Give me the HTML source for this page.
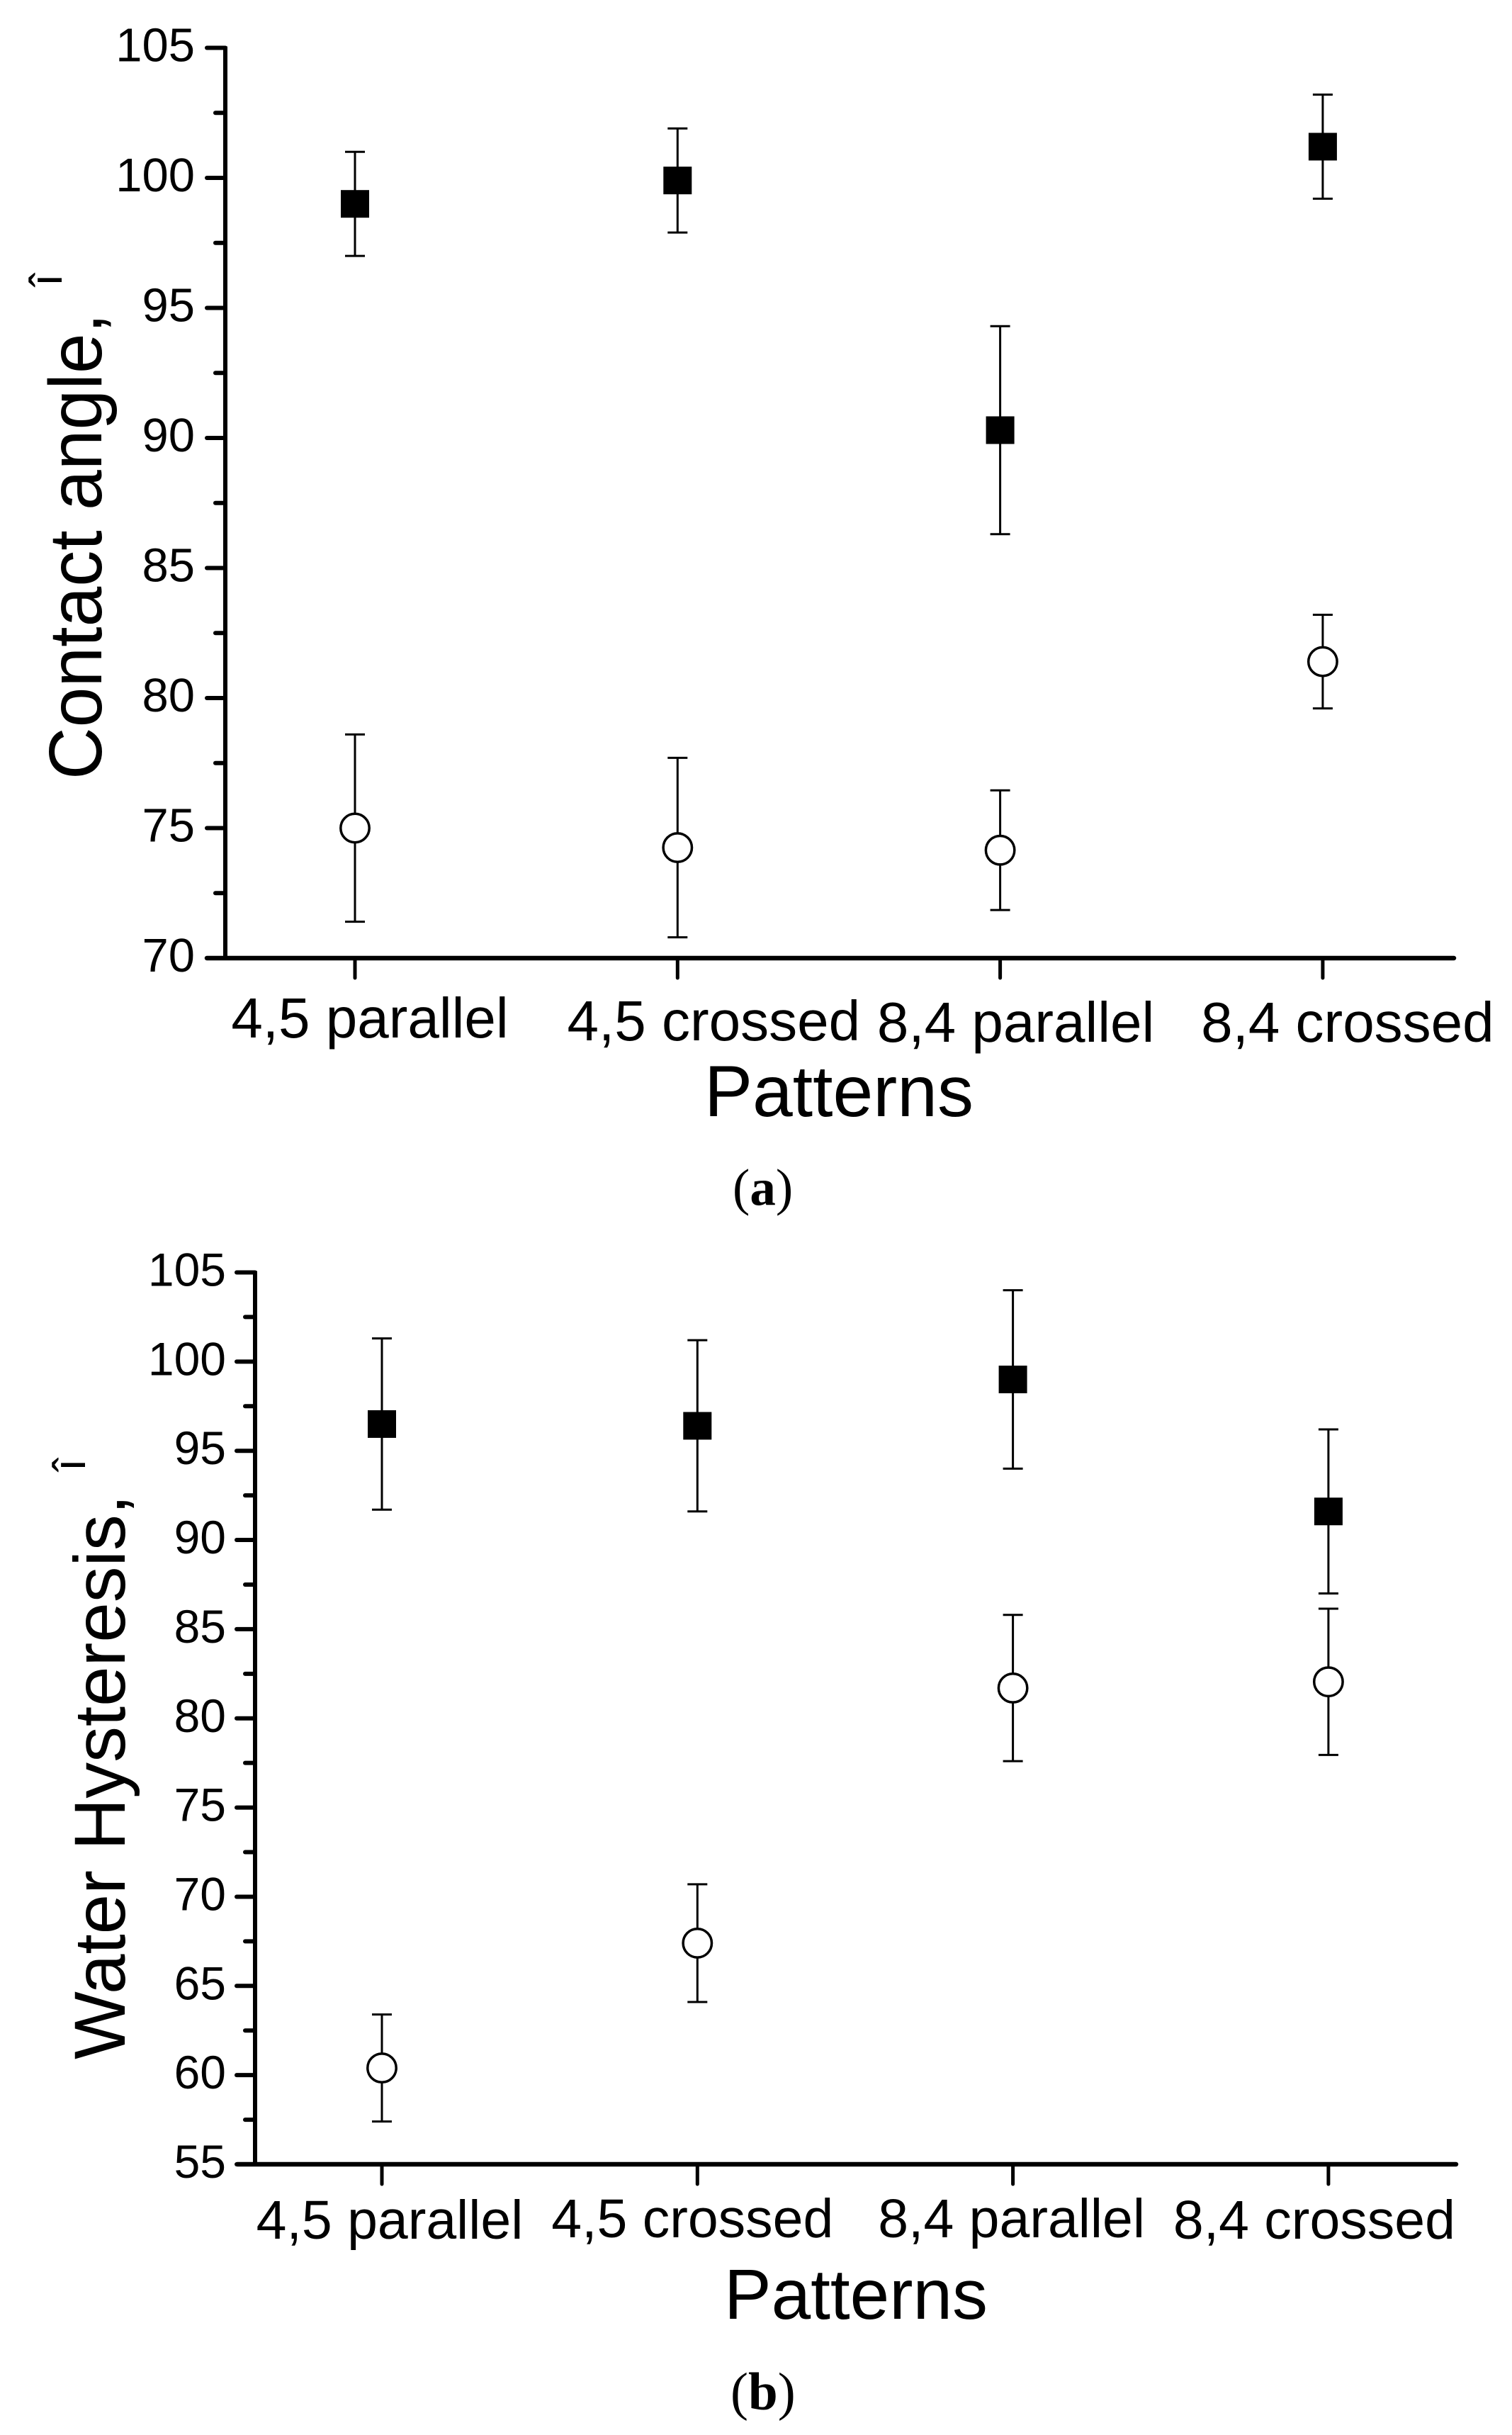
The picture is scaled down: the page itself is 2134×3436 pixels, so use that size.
<!DOCTYPE html>
<html lang="en">
<head>
<meta charset="utf-8">
<title>Contact angle and water hysteresis by pattern</title>
<style>
html,body{margin:0;padding:0;background:#fff;}
svg{display:block;}
text{font-family:"Liberation Sans",Arial,sans-serif;fill:#000;}
.cap{font-family:"Liberation Serif","Times New Roman",serif;}
</style>
</head>
<body>
<svg id="figure" xmlns="http://www.w3.org/2000/svg" width="2134" height="3436" viewBox="0 0 2134 3436">
  <rect x="0" y="0" width="2134" height="3436" fill="#fff"/>
  <g id="panel-a"></g>
  <g id="panel-b"></g>

  <text transform="translate(143,1100) rotate(-90)" font-size="106" textLength="658" lengthAdjust="spacingAndGlyphs">Contact angle,</text>
  <text transform="translate(87,404) rotate(-90)" font-size="64">î</text>
  <text x="994" y="1575" font-size="102" textLength="380" lengthAdjust="spacingAndGlyphs">Patterns</text>
  <text class="cap" x="1034" y="1700" font-size="73">(<tspan font-weight="bold">a</tspan>)</text>

  <text transform="translate(176,2906) rotate(-90)" font-size="102" textLength="797" lengthAdjust="spacingAndGlyphs">Water Hysteresis,</text>
  <text transform="translate(120,2076) rotate(-90)" font-size="64">î</text>
  <text x="1022" y="3272" font-size="100" textLength="372" lengthAdjust="spacingAndGlyphs">Patterns</text>
  <text class="cap" x="1031" y="3400" font-size="75">(<tspan font-weight="bold">b</tspan>)</text>
</svg>
<script>
// Data: categories and series values
const categories = ['4,5 parallel', '4,5 crossed', '8,4 parallel', '8,4 crossed'];

const yTicksA = [70, 75, 80, 85, 90, 95, 100, 105];
const filledA = [99.0, 99.9, 90.3, 101.2];
const filledErrA = [2.0, 2.0, 4.0, 2.0];
const openA = [75.0, 74.25, 74.15, 81.4];
const openErrA = [3.6, 3.45, 2.3, 1.8];

const yTicksB = [55, 60, 65, 70, 75, 80, 85, 90, 95, 100, 105];
const filledB = [96.5, 96.4, 99.0, 91.6];
const filledErrB = [4.8, 4.8, 5.0, 4.6];
const openB = [60.4, 67.4, 81.7, 82.05];
const openErrB = [3.0, 3.3, 4.1, 4.1];

const SVGNS = 'http://www.w3.org/2000/svg';

function lineEl(parent, x1, y1, x2, y2, w, cap) {
  const el = document.createElementNS(SVGNS, 'line');
  el.setAttribute('x1', x1);
  el.setAttribute('y1', y1);
  el.setAttribute('x2', x2);
  el.setAttribute('y2', y2);
  el.setAttribute('stroke', '#000');
  el.setAttribute('stroke-width', w);
  el.setAttribute('stroke-linecap', cap || 'butt');
  parent.appendChild(el);
  return el;
}

function textEl(parent, x, y, size, anchor, content) {
  const el = document.createElementNS(SVGNS, 'text');
  el.setAttribute('x', x);
  el.setAttribute('y', y);
  el.setAttribute('font-size', size);
  el.setAttribute('text-anchor', anchor);
  el.textContent = content;
  parent.appendChild(el);
  return el;
}

function drawPanel(g, o) {
  const yScale = v => o.yBase - (v - o.yMin) * o.pxPerUnit;
  const xScale = i => o.x0 + i * o.xStep;
  const yTop = yScale(o.yMax);

  // y axis line
  const yAxis = lineEl(g, o.axisX, yTop - 2, o.axisX, o.yBase + 2, 6);
  
  

  // x axis line
  const xAxis = lineEl(g, o.axisLeft, o.yBase, o.axisRight, o.yBase, 6.5, 'round');
  
  

  // y ticks and labels
  o.yTicks.forEach((t, i) => {
    const y = yScale(t);
    const tick = lineEl(g, o.axisX - 26, y, o.axisX, y, 6, 'round');
    
    
    const label = textEl(g, o.yLabelX, y + 19, o.yLabelSize, 'end', String(t));
    
    
    if (i < o.yTicks.length - 1) {
      const my = yScale((t + o.yTicks[i + 1]) / 2);
      const minor = lineEl(g, o.axisX - 14, my, o.axisX, my, 6, 'round');
      
      
    }
  });

  // x ticks and category labels
  categories.forEach((c, i) => {
    const x = xScale(i);
    const tick = lineEl(g, x, o.yBase, x, o.yBase + 28, 5, 'round');
    
    
    const label = textEl(g, x + o.catNudgeX[i], o.yBase + o.catNudgeY[i], o.catSize, 'middle', c);
    
    
  });

  // series
  const series = [
    { key: 'filled', vals: o.filled, errs: o.filledErr },
    { key: 'open', vals: o.open, errs: o.openErr }
  ];
  series.forEach(s => {
    s.vals.forEach((v, i) => {
      const x = xScale(i);
      const hi = yScale(v + s.errs[i]);
      const lo = yScale(v - s.errs[i]);
      const stem = lineEl(g, x, hi, x, lo, 3);
      
      
      const capTop = lineEl(g, x - 14, hi, x + 14, hi, 3);
      
      
      const capBot = lineEl(g, x - 14, lo, x + 14, lo, 3);
      
      
      const y = yScale(v);
      if (s.key === 'filled') {
        const sq = document.createElementNS(SVGNS, 'rect');
        sq.setAttribute('x', x - 20);
        sq.setAttribute('y', y - 19.5);
        sq.setAttribute('width', 40);
        sq.setAttribute('height', 39);
        sq.setAttribute('fill', '#000');
        
        
        g.appendChild(sq);
      } else {
        const ci = document.createElementNS(SVGNS, 'circle');
        ci.setAttribute('cx', x);
        ci.setAttribute('cy', y);
        ci.setAttribute('r', 20.2);
        ci.setAttribute('fill', '#fff');
        ci.setAttribute('stroke', '#000');
        ci.setAttribute('stroke-width', 3.5);
        
        
        g.appendChild(ci);
      }
    });
  });
}

drawPanel(document.getElementById('panel-a'), {
  yMin: 70, yMax: 105, yBase: 1352, pxPerUnit: 36.7,
  axisX: 318, axisLeft: 292, axisRight: 2052,
  x0: 501, xStep: 455.3,
  yLabelX: 275, yLabelSize: 67,
  catSize: 80, catNudgeX: [21, 51, 22, 35], catNudgeY: [112, 116, 118, 118],
  yTicks: yTicksA,
  filled: filledA, filledErr: filledErrA, open: openA, openErr: openErrA
});

drawPanel(document.getElementById('panel-b'), {
  yMin: 55, yMax: 105, yBase: 3054, pxPerUnit: 25.17,
  axisX: 360, axisLeft: 335, axisRight: 2055,
  x0: 539, xStep: 445.3,
  yLabelX: 319, yLabelSize: 66,
  catSize: 77, catNudgeX: [11, -7, -2, -20], catNudgeY: [105, 103, 103, 105],
  yTicks: yTicksB,
  filled: filledB, filledErr: filledErrB, open: openB, openErr: openErrB
});
</script>
</body>
</html>
